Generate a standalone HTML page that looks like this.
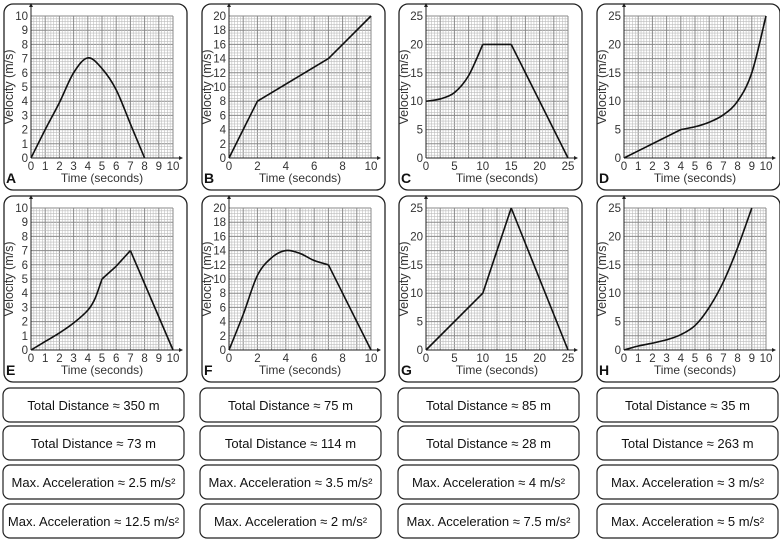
<!DOCTYPE html>
<html><head><meta charset="utf-8"><style>
html,body{margin:0;padding:0;background:#fff;}
svg{display:block;font-family:"Liberation Sans",sans-serif;}
</style></head><body>
<svg id="c" width="780" height="540" xmlns="http://www.w3.org/2000/svg"></svg>
<script>
// ---- data ----
const panelLetters = ["A","B","C","D","E","F","G","H"];
const xMax = [10,10,25,10,10,10,25,10];
const xStep = [1,2,5,1,1,2,5,1];
const yMax = [10,20,25,25,10,20,25,25];
const yStep = [1,2,5,5,1,2,5,5];
const seriesA = [[[0,0],[1,2],[2,3.9],[3,6],[4,7.05],[5,6.3],[6,4.8],[7,2.4],[8,0]]];
const seriesB = [[[0,0],[2,8]],[[2,8],[7,14]],[[7,14],[8,16]],[[8,16],[10,20]]];
const seriesC = [[[0,10],[2.5,10.4],[5,11.5],[7.5,14.5],[10,20]],[[10,20],[15,20]],[[15,20],[25,0]]];
const seriesD = [[[0,0],[4,5]],[[4,5],[5,5.5],[6,6.3],[7,7.6],[8,10],[9,15],[10,25]]];
const seriesE = [[[0,0],[1,0.6],[2,1.2],[3,1.9],[4,2.8],[4.5,3.6],[5,5]],[[5,5],[6,5.9]],[[6,5.9],[7,7]],[[7,7],[10,0]]];
const seriesF = [[[0,0],[1,5],[2,10.5],[3,13],[4,14],[5,13.6],[6,12.6],[7,12]],[[7,12],[10,0]]];
const seriesG = [[[0,0],[10,10]],[[10,10],[15,25]],[[15,25],[25,0]]];
const seriesH = [[[0,0],[1,0.7],[2,1.2],[3,1.8],[4,2.7],[5,4.3],[6,7.5],[7,12],[8,18],[9,25]]];
const allSeries = [seriesA,seriesB,seriesC,seriesD,seriesE,seriesF,seriesG,seriesH];
const cardTexts = [
 ["Total Distance ≈ 350 m","Total Distance ≈ 75 m","Total Distance ≈ 85 m","Total Distance ≈ 35 m"],
 ["Total Distance ≈ 73 m","Total Distance ≈ 114 m","Total Distance ≈ 28 m","Total Distance ≈ 263 m"],
 ["Max. Acceleration ≈ 2.5 m/s²","Max. Acceleration ≈ 3.5 m/s²","Max. Acceleration ≈ 4 m/s²","Max. Acceleration ≈ 3 m/s²"],
 ["Max. Acceleration ≈ 12.5 m/s²","Max. Acceleration ≈ 2 m/s²","Max. Acceleration ≈ 7.5 m/s²","Max. Acceleration ≈ 5 m/s²"]
];
// ---- layout ----
const NS="http://www.w3.org/2000/svg";
const svg=document.getElementById('c');
function mk(tag,attrs,parent){const e=document.createElementNS(NS,tag);for(const k in attrs)e.setAttribute(k,attrs[k]);(parent||svg).appendChild(e);return e;}
const plotLefts=[31,229,426,624];
const plotTops=[16,208];
const W=142,H=142;
function crPath(pts,sx,sy){
  const p=pts.map(q=>[sx(q[0]),sy(q[1])]);
  let d="M"+p[0][0].toFixed(2)+","+p[0][1].toFixed(2);
  if(p.length===2){return d+" L"+p[1][0].toFixed(2)+","+p[1][1].toFixed(2);}
  for(let i=0;i<p.length-1;i++){
    const p0=p[Math.max(0,i-1)],p1=p[i],p2=p[i+1],p3=p[Math.min(p.length-1,i+2)];
    const c1=[p1[0]+(p2[0]-p0[0])/6,p1[1]+(p2[1]-p0[1])/6];
    const c2=[p2[0]-(p3[0]-p1[0])/6,p2[1]-(p3[1]-p1[1])/6];
    d+=" C"+c1[0].toFixed(2)+","+c1[1].toFixed(2)+" "+c2[0].toFixed(2)+","+c2[1].toFixed(2)+" "+p2[0].toFixed(2)+","+p2[1].toFixed(2);
  }
  return d;
}
for(let i=0;i<8;i++){
  const col=i%4,row=Math.floor(i/4);
  const L=plotLefts[col],T=plotTops[row],B=T+H;
  const g=mk('g',{});
  
  
  const box=mk('rect',{x:L-27,y:T-12,width:183,height:186,rx:9,fill:'#fff',stroke:'#222','stroke-width':1.3},g);
  
  
  const sx=v=>L+v/xMax[i]*W, sy=v=>B-v/yMax[i]*H;
  const grid=mk('g',{},g);
  
  
  for(let k=0;k<=50;k++){
    const maj=k%5===0;
    const x=L+k*W/50,y=T+k*H/50;
    mk('line',{x1:x,y1:T,x2:x,y2:B,stroke:maj?'#8a8a8a':'#bdbdbd','stroke-width':maj?1:0.6},grid);
    mk('line',{x1:L,y1:y,x2:L+W,y2:y,stroke:maj?'#8a8a8a':'#bdbdbd','stroke-width':maj?1:0.6},grid);
  }
  const ya=mk('line',{x1:L,y1:B,x2:L,y2:T-12,stroke:'#222','stroke-width':1},g);
  
  mk('path',{d:`M${L-2},${T-9} L${L},${T-13} L${L+2},${T-9}Z`,fill:'#222'},g);
  const xa=mk('line',{x1:L,y1:B,x2:L+W+9,y2:B,stroke:'#222','stroke-width':1},g);
  
  mk('path',{d:`M${L+W+6},${B-2} L${L+W+10},${B} L${L+W+6},${B+2}Z`,fill:'#222'},g);
  for(let v=0;v<=xMax[i]+1e-9;v+=xStep[i]){
    const t=mk('text',{x:sx(v),y:B+12,'font-size':11.5,'text-anchor':'middle',fill:'#333'},g);t.textContent=v;
    
  }
  for(let v=0;v<=yMax[i]+1e-9;v+=yStep[i]){
    const t=mk('text',{x:L-3,y:sy(v)+4,'font-size':11.5,'text-anchor':'end',fill:'#333'},g);t.textContent=v;
    
  }
  const xt=mk('text',{x:L+W/2,y:B+24,'font-size':12,'text-anchor':'middle',fill:'#333'},g);xt.textContent='Time (seconds)';
  
  const yt=mk('text',{x:0,y:0,'font-size':12.5,'text-anchor':'middle',fill:'#333',transform:`translate(${L-18},${T+H/2}) rotate(-90)`},g);yt.textContent='Velocity (m/s)';
  
  const lt=mk('text',{x:L-25,y:B+25,'font-size':14,'font-weight':'bold',fill:'#111'},g);lt.textContent=panelLetters[i];
  
  allSeries[i].forEach(seg=>{
    const p=mk('path',{d:crPath(seg,sx,sy),fill:'none',stroke:'#111','stroke-width':1.6,'stroke-linejoin':'round'},g);
    
  });
}
const cardLefts=[3,200,398,597], cardTops=[388,426,465,504];
for(let r=0;r<4;r++)for(let c=0;c<4;c++){
  const g=mk('g',{});
  
  
  mk('rect',{x:cardLefts[c],y:cardTops[r],width:181,height:34,rx:7,fill:'#fff',stroke:'#222','stroke-width':1.2},g);
  const t=mk('text',{x:cardLefts[c]+90.5,y:cardTops[r]+22,'font-size':13,'text-anchor':'middle',fill:'#111'},g);
  t.textContent=cardTexts[r][c];
  
}
</script>
</body></html>
